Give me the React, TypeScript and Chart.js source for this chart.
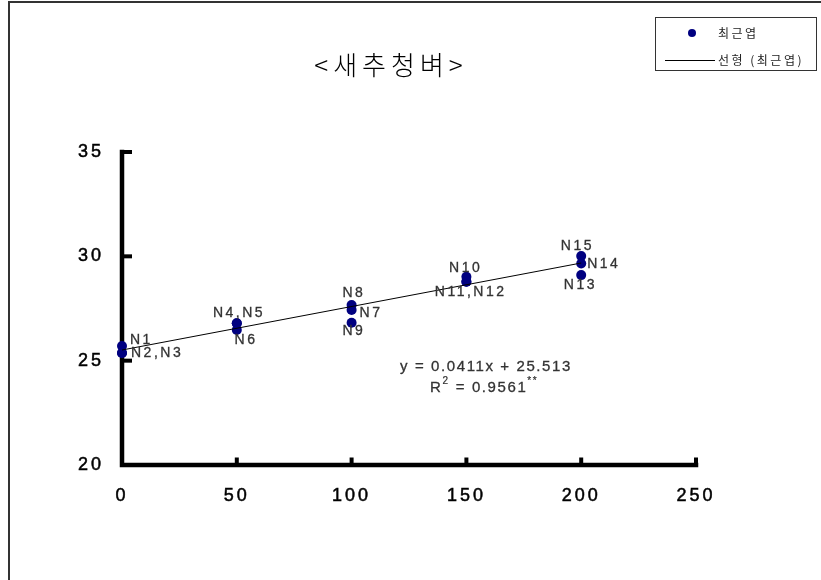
import React, { useEffect, useRef } from 'react';
import { Chart, registerables } from 'chart.js';

Chart.register(...registerables);

// ---- data ----
const nitrogenRates = [0, 0, 0, 50, 50, 50, 100, 100, 100, 150, 150, 150, 200, 200, 200];
const pointNames = ['N1', 'N2', 'N3', 'N4', 'N5', 'N6', 'N7', 'N8', 'N9', 'N10', 'N11', 'N12', 'N13', 'N14', 'N15'];
const leafValues = [25.7, 25.37, 25.37, 26.79, 26.79, 26.47, 27.43, 27.67, 26.82, 29.02, 28.78, 28.78, 29.1, 29.66, 30.01];
const trendX = [0, 200];
const trendY = [25.51, 29.68];
const xTicks = [0, 50, 100, 150, 200, 250];
const yTicks = [20, 25, 30, 35];
const pointLabels = ['N1', 'N2,N3', 'N4,N5', 'N6', 'N8', 'N7', 'N9', 'N10', 'N11,N12', 'N15', 'N14', 'N13'];
const labelPointIndex = [0, 1, 3, 5, 7, 6, 8, 9, 10, 14, 13, 12];
const titleText = '<새추청벼>';
const legendScatter = '최근엽';
const legendTrend = '선형 (최근엽)';
const equationText = 'y = 0.0411x + 25.513';
const r2Text = ' = 0.9561';

// ---- placement / style (not data) ----
const labelPlacement: [CanvasTextAlign, number, number][] = [
  ['left', 8, -6],
  ['left', 9, 0],
  ['center', 1, -10],
  ['center', 8, 10],
  ['center', 1, -12],
  ['left', 8, 3],
  ['center', 1, 8],
  ['center', -2, -9],
  ['center', 3, 10],
  ['center', -5, -10],
  ['left', 6, 1],
  ['center', -2, 10],
];
const NAVY = '#000080';
const NUM_FONT = '"Liberation Sans", Arial, sans-serif';
const KR_FONT = '"Noto Sans CJK KR", "Noto Sans", sans-serif';

function fillBold(ctx: CanvasRenderingContext2D, txt: string, x: number, y: number, w = 0.4) {
  ctx.fillText(txt, x, y);
  ctx.lineWidth = w;
  ctx.strokeStyle = ctx.fillStyle as string;
  ctx.strokeText(txt, x, y);
}

const decorPlugin = {
  id: 'decor',
  beforeDraw(chart: any) {
    const ctx = chart.ctx;
    ctx.letterSpacing = '3px';
  },
  beforeDatasetsDraw(chart: any) {
    const ctx = chart.ctx;
    const xs = chart.scales.x;
    const ys = chart.scales.y;
    const x0 = xs.getPixelForValue(xTicks[0]);
    const x1 = xs.getPixelForValue(xTicks[xTicks.length - 1]);
    const y0 = ys.getPixelForValue(yTicks[0]);
    const y1 = ys.getPixelForValue(yTicks[yTicks.length - 1]);
    ctx.save();
    ctx.strokeStyle = '#000';
    ctx.lineWidth = 4.5;
    ctx.lineCap = 'square';
    ctx.beginPath();
    ctx.moveTo(x0, y1);
    ctx.lineTo(x0, y0);
    ctx.lineTo(x1, y0);
    ctx.stroke();
    ctx.lineWidth = 4;
    ctx.lineCap = 'butt';
    yTicks.forEach((v) => {
      const py = ys.getPixelForValue(v);
      ctx.beginPath();
      ctx.moveTo(x0, py);
      ctx.lineTo(x0 + 10, py);
      ctx.stroke();
    });
    xTicks.forEach((v) => {
      const px = xs.getPixelForValue(v);
      ctx.beginPath();
      ctx.moveTo(px, y0);
      ctx.lineTo(px, y0 - 7.5);
      ctx.stroke();
    });
    ctx.restore();
  },
  afterDraw(chart: any) {
    const ctx = chart.ctx;
    const xs = chart.scales.x;
    const ys = chart.scales.y;
    ctx.save();
    // outer frame
    ctx.strokeStyle = '#333';
    ctx.lineWidth = 2;
    ctx.beginPath();
    ctx.moveTo(9, 580);
    ctx.lineTo(9, 2);
    ctx.lineTo(821, 2);
    ctx.stroke();

    // title
    ctx.fillStyle = '#000';
    ctx.font = `300 26px ${KR_FONT}`;
    ctx.letterSpacing = '5px';
    ctx.textAlign = 'center';
    ctx.textBaseline = 'middle';
    ctx.fillText(titleText, 391, 65);

    // legend
    ctx.strokeStyle = '#333';
    ctx.lineWidth = 1;
    ctx.strokeRect(655.5, 17.5, 161, 53);
    ctx.fillStyle = NAVY;
    ctx.beginPath();
    ctx.arc(692, 33, 4, 0, Math.PI * 2);
    ctx.fill();
    ctx.strokeStyle = '#000';
    ctx.beginPath();
    ctx.moveTo(665, 60.5);
    ctx.lineTo(715, 60.5);
    ctx.stroke();
    ctx.fillStyle = '#222';
    ctx.font = `12px ${KR_FONT}`;
    ctx.letterSpacing = '2.5px';
    ctx.textAlign = 'left';
    ctx.fillText(legendScatter, 718, 33);
    ctx.fillText(legendTrend, 718, 60);

    // point labels
    ctx.fillStyle = '#333';
    ctx.font = `14px ${NUM_FONT}`;
    ctx.letterSpacing = '2.5px';
    pointLabels.forEach((txt, i) => {
      const pi = labelPointIndex[i];
      const [align, dx, dy] = labelPlacement[i];
      const px = xs.getPixelForValue(nitrogenRates[pi]);
      const py = ys.getPixelForValue(leafValues[pi]);
      ctx.textAlign = align;
      fillBold(ctx, txt, px + dx + (align === 'center' ? 1.25 : 0), py + dy, 0.3);
    });

    // equation
    ctx.fillStyle = '#333';
    ctx.font = `15px ${NUM_FONT}`;
    ctx.letterSpacing = '1.6px';
    ctx.textAlign = 'center';
    fillBold(ctx, equationText, 486, 367, 0.3);
    ctx.textAlign = 'left';
    let x = 430;
    fillBold(ctx, 'R', x, 387.5, 0.3);
    x += ctx.measureText('R').width;
    ctx.font = `10px ${NUM_FONT}`;
    ctx.letterSpacing = '1px';
    fillBold(ctx, '2', x, 381, 0.2);
    x += ctx.measureText('2').width + 1;
    ctx.font = `15px ${NUM_FONT}`;
    ctx.letterSpacing = '1.6px';
    fillBold(ctx, r2Text, x, 387.5, 0.3);
    x += ctx.measureText(r2Text).width;
    ctx.font = `10px ${NUM_FONT}`;
    ctx.letterSpacing = '1.5px';
    fillBold(ctx, '**', x, 381, 0.2);
    ctx.restore();
  },
};

export default function App() {
  const ref = useRef<HTMLCanvasElement | null>(null);
  useEffect(() => {
    if (!ref.current) return;
    const tickStyle = {
      font: { family: NUM_FONT, size: 18 },
      color: '#000',
      textStrokeColor: '#000',
      textStrokeWidth: 0.5,
      autoSkip: false,
    };
    const chart = new Chart(ref.current, {
      type: 'scatter',
      data: {
        datasets: [
          {
            label: legendTrend,
            type: 'line',
            data: trendX.map((v, i) => ({ x: v, y: trendY[i] })),
            borderColor: '#000',
            borderWidth: 1,
            pointRadius: 0,
            showLine: true,
            fill: false,
            clip: false,
            order: 0,
          } as any,
          {
            label: legendScatter,
            data: nitrogenRates.map((v, i) => ({ x: v, y: leafValues[i] })),
            backgroundColor: NAVY,
            borderColor: NAVY,
            borderWidth: 0,
            pointRadius: 5,
            clip: false,
            order: 1,
          } as any,
        ],
      },
      options: {
        animation: false,
        responsive: false,
        events: [],
        layout: { padding: { left: 0, top: 152, right: 125, bottom: 65 } },
        plugins: {
          legend: { display: false },
          title: { display: false },
          tooltip: { enabled: false },
        },
        scales: {
          x: {
            type: 'linear',
            min: 0,
            max: 250,
            afterBuildTicks: (s: any) => {
              s.ticks = xTicks.map((v) => ({ value: v }));
            },
            afterFit: (s: any) => {
              s.height = 50;
            },
            grid: { display: false, drawTicks: false },
            border: { display: false },
            ticks: { ...tickStyle, padding: 20, maxRotation: 0 },
          },
          y: {
            type: 'linear',
            min: 20,
            max: 35,
            afterBuildTicks: (s: any) => {
              s.ticks = yTicks.map((v) => ({ value: v }));
            },
            afterFit: (s: any) => {
              s.width = 122;
            },
            grid: { display: false, drawTicks: false },
            border: { display: false },
            ticks: { ...tickStyle, padding: 18 },
          },
        },
      } as any,
      plugins: [decorPlugin],
    });
    return () => chart.destroy();
  }, []);
  return (
    <div style={{ position: 'absolute', left: 0, top: 0, width: 821, height: 580, background: '#fff' }}>
      <canvas ref={ref} width={821} height={580} style={{ display: 'block' }} />
    </div>
  );
}
